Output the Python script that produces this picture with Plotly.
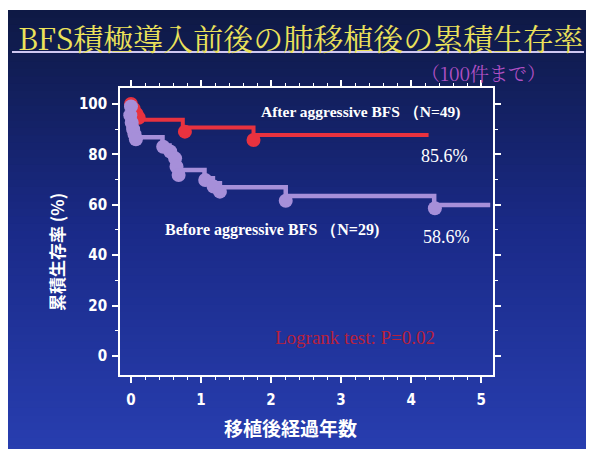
import plotly.graph_objects as go

# ---- data ----
after_t = [0, 0.03, 0.08, 0.14, 0.74, 1.75, 4.25]
after_s = [100, 97.5, 95.5, 93.7, 90.6, 87.7, 87.7]
after_mark_t = [0.0, 0.04, 0.08, 0.11, 0.77, 1.75]
after_mark_s = [100, 98, 96, 94.5, 89.0, 85.7]

before_t = [0, 0.01, 0.03, 0.05, 0.08, 0.45, 0.55, 0.62, 0.65, 0.69, 1.05, 1.17, 1.27, 2.21, 4.33, 5.13]
before_s = [100, 96, 93, 90, 86.8, 83.5, 81, 78.5, 76, 73.8, 70.5, 68.5, 66.9, 63.5, 59.9, 59.9]
before_mark_t = [0, -0.01, 0.01, 0.03, 0.05, 0.07, 0.46, 0.56, 0.63, 0.65, 0.68, 1.06, 1.18, 1.27, 2.21, 4.34]
before_mark_s = [99, 95.5, 92.5, 90, 88, 86, 83.0, 81.1, 78.4, 75.1, 71.8, 69.8, 67.2, 65.2, 61.6, 58.6]

x_ticks = [0, 1, 2, 3, 4, 5]
y_ticks = [0, 20, 40, 60, 80, 100]

title_text = "BFS積極導入前後の肺移植後の累積生存率"
subtitle_text = "（100件まで）"
after_label = "After aggressive BFS （N=49)"
before_label = "Before aggressive BFS （N=29)"
after_pct = "85.6%"
before_pct = "58.6%"
logrank = "Logrank test: P=0.02"
x_title = "移植後経過年数"
y_title = "累積生存率 (%)"

RED = "#e8323f"
PURPLE = "#a68fd9"

OFF = 8  # page body margin
W, H = 594 - OFF, 449 - OFF
# plot area in page pixels
PL, PR, PT, PB = 120, 493, 88, 375
L, R, T, B = PL - OFF, PR - OFF, PT - OFF, PB - OFF


def px(p):
    return (p - PL) / (PR - PL)


def py(p):
    return (PB - p) / (PB - PT)


fig = go.Figure()

fig.add_trace(go.Scatter(x=after_t, y=after_s, mode="lines", line=dict(color=RED, width=4, shape="hv"),
                         hoverinfo="skip"))
fig.add_trace(go.Scatter(x=after_mark_t, y=after_mark_s, mode="markers",
                         marker=dict(color=RED, size=14, line=dict(width=0)), hoverinfo="skip"))
fig.add_trace(go.Scatter(x=before_t, y=before_s, mode="lines", line=dict(color=PURPLE, width=4.5, shape="hv"),
                         hoverinfo="skip"))
fig.add_trace(go.Scatter(x=before_mark_t, y=before_mark_s, mode="markers",
                         marker=dict(color=PURPLE, size=14, line=dict(width=0)), hoverinfo="skip"))

# gradient background
shapes = []
n = 60
top_y, bot_y = 10, 452
stops = [(0.0, (14, 25, 68)), (0.5, (26, 42, 136)), (1.0, (40, 62, 176))]


def col(t):
    for i in range(len(stops) - 1):
        t0, c0 = stops[i]
        t1, c1 = stops[i + 1]
        if t0 <= t <= t1:
            f = (t - t0) / (t1 - t0)
            return "rgb(%d,%d,%d)" % tuple(round(c0[k] + (c1[k] - c0[k]) * f) for k in range(3))
    return "rgb(%d,%d,%d)" % stops[-1][1]


for i in range(n):
    y0 = top_y + (bot_y - top_y) * i / n
    y1 = top_y + (bot_y - top_y) * (i + 1) / n + 0.8
    shapes.append(dict(type="rect", xref="paper", yref="paper", x0=px(0), x1=px(600),
                       y0=py(y1), y1=py(y0), fillcolor=col((i + 0.5) / n), line=dict(width=0),
                       layer="below"))
# title underline
shapes.append(dict(type="line", xref="paper", yref="paper", x0=px(12), x1=px(584), y0=py(52), y1=py(52),
                   line=dict(color="#cfc8f2", width=2)))

annotations = [
    dict(text=title_text, xref="paper", yref="paper", x=px(300), y=py(37), showarrow=False,
         font=dict(family="Noto Serif CJK JP, Noto Sans CJK JP", size=30, color="#ece25a"),
         xanchor="center", yanchor="middle"),
    dict(text=subtitle_text, xref="paper", yref="paper", x=px(483), y=py(72), showarrow=False,
         font=dict(family="Noto Serif CJK JP, Noto Sans CJK JP", size=19, color="#b050c4"),
         xanchor="center", yanchor="middle"),
    dict(text=after_label, x=px(360), y=py(112), xref="paper", yref="paper", showarrow=False,
         font=dict(family="Liberation Serif", size=15.5, color="white", weight="bold"), xanchor="center",
         yanchor="middle"),
    dict(text=after_pct, x=px(444), y=py(156), xref="paper", yref="paper", showarrow=False,
         font=dict(family="Liberation Serif", size=18, color="white"), xanchor="center", yanchor="middle"),
    dict(text=before_label, x=px(272), y=py(230), xref="paper", yref="paper", showarrow=False,
         font=dict(family="Liberation Serif", size=16, color="white", weight="bold"), xanchor="center",
         yanchor="middle"),
    dict(text=before_pct, x=px(446), y=py(237), xref="paper", yref="paper", showarrow=False,
         font=dict(family="Liberation Serif", size=18, color="white"), xanchor="center", yanchor="middle"),
    dict(text=logrank, x=px(355), y=py(337), xref="paper", yref="paper", showarrow=False,
         font=dict(family="Liberation Serif", size=19, color="#b8203c"), xanchor="center", yanchor="middle"),
    dict(text=x_title, x=px(290), y=py(427), xref="paper", yref="paper", showarrow=False,
         font=dict(family="Noto Sans CJK JP", size=19, color="white", weight="bold"), xanchor="center",
         yanchor="middle"),
    dict(text=y_title, x=px(56), y=py(252), xref="paper", yref="paper", showarrow=False, textangle=-90,
         font=dict(family="Noto Sans CJK JP", size=17, color="white", weight="bold"), xanchor="center",
         yanchor="middle"),
]

tickfont = dict(family="Liberation Sans Narrow, DejaVu Sans Condensed, Liberation Sans", size=15,
                color="white", weight="bold")

fig.update_layout(
    width=W, height=H, autosize=False,
    margin=dict(l=L, r=W - R, t=T, b=H - B, pad=0),
    paper_bgcolor="white", plot_bgcolor="rgba(0,0,0,0)",
    showlegend=False,
    shapes=shapes, annotations=annotations,
    xaxis=dict(range=[-0.157, 5.17], tickvals=x_ticks, ticktext=[str(v) for v in x_ticks],
               ticks="outside", ticklen=6, tickwidth=1.5, tickcolor="white",
               minor=dict(dtick=0.2, tick0=0, ticks="outside", ticklen=3, tickwidth=1.2, tickcolor="white"),
               showline=True, linecolor="white", linewidth=1.8, mirror="allticks",
               showgrid=False, zeroline=False, tickfont=tickfont, ticklabelstandoff=4),
    yaxis=dict(range=[-7.5, 106.3], tickvals=y_ticks, ticktext=[str(v) for v in y_ticks],
               ticks="outside", ticklen=6, tickwidth=1.5, tickcolor="white",
               minor=dict(dtick=10, tick0=0, ticks="outside", ticklen=3, tickwidth=1.2, tickcolor="white"),
               showline=True, linecolor="white", linewidth=1.8, mirror="allticks",
               showgrid=False, zeroline=False, tickfont=tickfont, ticklabelstandoff=2),
)

fig.write_html("out.html")
